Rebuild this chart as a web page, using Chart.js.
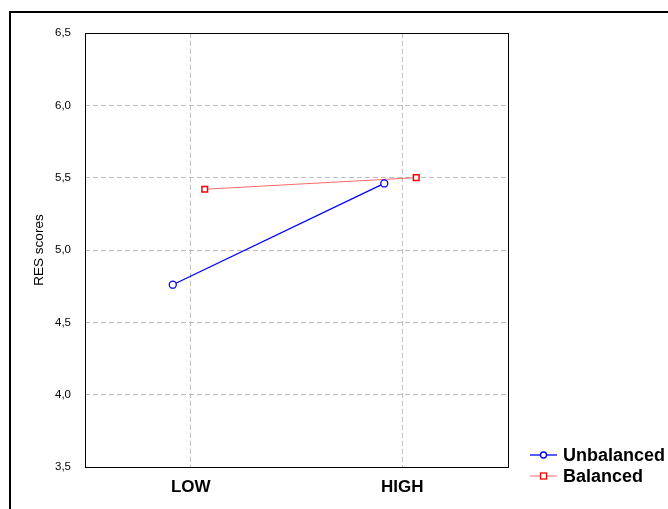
<!DOCTYPE html>
<html>
<head>
<meta charset="utf-8">
<script src="https://cdn.jsdelivr.net/npm/chart.js@4/dist/chart.umd.min.js"></script>
<style>
  html, body { margin: 0; padding: 0; background: #fff; overflow: hidden; }
  #wrap { position: absolute; left: 0; top: 0; width: 668px; height: 509px; }
  #frame { position: absolute; left: 9px; top: 11px; width: 700px; height: 540px;
           border-left: 2px solid #000; border-top: 2px solid #000; pointer-events: none; }
</style>
</head>
<body>
<div id="wrap"><canvas id="chart"></canvas></div>
<div id="frame"></div>
<script>
const categories = ["LOW", "HIGH"];
const unbalanced = [4.76, 5.46];
const balanced = [5.42, 5.50];
const yTicks = [3.5, 4.0, 4.5, 5.0, 5.5, 6.0, 6.5];

const FONT = "'Liberation Sans', Arial, sans-serif";

// each series is drawn slightly beside its category, as in the original
function points(values, shift) {
  return values.map((v, i) => ({ x: i + 1 + shift, y: v }));
}

const plotBorder = {
  id: "plotBorder",
  afterDraw(chart) {
    const { ctx, chartArea: a } = chart;
    ctx.save();
    ctx.strokeStyle = "#000";
    ctx.lineWidth = 1;
    ctx.strokeRect(a.left + 0.5, a.top + 0.5, a.right - a.left, a.bottom - a.top);
    ctx.restore();
  }
};

const legendBox = {
  id: "legendBox",
  afterDraw(chart) {
    const ctx = chart.ctx;
    const x0 = 530, x1 = 557, tx = 563;
    ctx.save();
    chart.data.datasets.forEach((ds, i) => {
      const y = 455 + i * 21;
      ctx.strokeStyle = ds.borderColor;
      ctx.lineWidth = ds.borderWidth;
      ctx.beginPath();
      ctx.moveTo(x0, y);
      ctx.lineTo(x1, y);
      ctx.stroke();
      ctx.fillStyle = "#fff";
      ctx.strokeStyle = ds.pointBorderColor;
      ctx.lineWidth = 1.3;
      const cx = (x0 + x1) / 2;
      if (ds.pointStyle === "rect") {
        ctx.fillRect(cx - 3, y - 3, 6, 6);
        ctx.strokeRect(cx - 3, y - 3, 6, 6);
      } else {
        ctx.beginPath();
        ctx.arc(cx, y, 3, 0, Math.PI * 2);
        ctx.fill();
        ctx.stroke();
      }
      ctx.fillStyle = "#000";
      ctx.font = "bold 18px " + FONT;
      ctx.textBaseline = "middle";
      ctx.fillText(ds.label, tx, y + 1);
    });
    ctx.restore();
  }
};

const gridStyle = {
  color: "#bdbdbd",
  lineWidth: 1,
  drawTicks: false
};

new Chart(document.getElementById("chart"), {
  type: "line",
  data: {
    datasets: [
      {
        label: "Unbalanced",
        data: points(unbalanced, -0.085),
        borderColor: "#0000ff",
        borderWidth: 1.3,
        pointStyle: "circle",
        pointRadius: 3.5,
        pointBorderWidth: 1.3,
        pointBackgroundColor: "#fff",
        pointBorderColor: "#0000ff"
      },
      {
        label: "Balanced",
        data: points(balanced, 0.066),
        borderColor: "#ff6a6a",
        borderWidth: 1,
        pointStyle: "rect",
        pointRadius: 4,
        pointBorderWidth: 1.5,
        pointBackgroundColor: "#fff",
        pointBorderColor: "#ff0000"
      }
    ]
  },
  options: {
    responsive: true,
    maintainAspectRatio: false,
    animation: false,
    layout: { padding: { top: 33, right: 160, left: 0, bottom: 0 } },
    plugins: { legend: { display: false }, tooltip: { enabled: false } },
    scales: {
      x: {
        type: "linear",
        min: 0.5,
        max: 2.5,
        afterBuildTicks(scale) {
          scale.ticks = categories.map((_, i) => ({ value: i + 1 }));
        },
        afterFit(scale) { scale.height = 42; },
        grid: gridStyle,
        border: { display: false, dash: [5, 3] },
        ticks: {
          padding: 10,
          color: "#000",
          font: { family: FONT, size: 17, weight: "bold" },
          callback: (v) => categories[Math.round(v) - 1]
        }
      },
      y: {
        min: 3.5,
        max: 6.5,
        afterBuildTicks(scale) {
          scale.ticks = yTicks.map((v) => ({ value: v }));
        },
        afterFit(scale) { scale.width = 85; },
        grid: gridStyle,
        border: { display: false, dash: [5, 3] },
        ticks: {
          padding: 14,
          color: "#000",
          font: { family: FONT, size: 11.5 },
          callback: (v) => v.toFixed(1).replace(".", ",")
        },
        title: {
          display: true,
          text: "RES scores",
          color: "#000",
          font: { family: FONT, size: 13.5 },
          padding: { top: 31, bottom: 0 }
        }
      }
    }
  },
  plugins: [plotBorder, legendBox]
});
</script>
</body>
</html>
